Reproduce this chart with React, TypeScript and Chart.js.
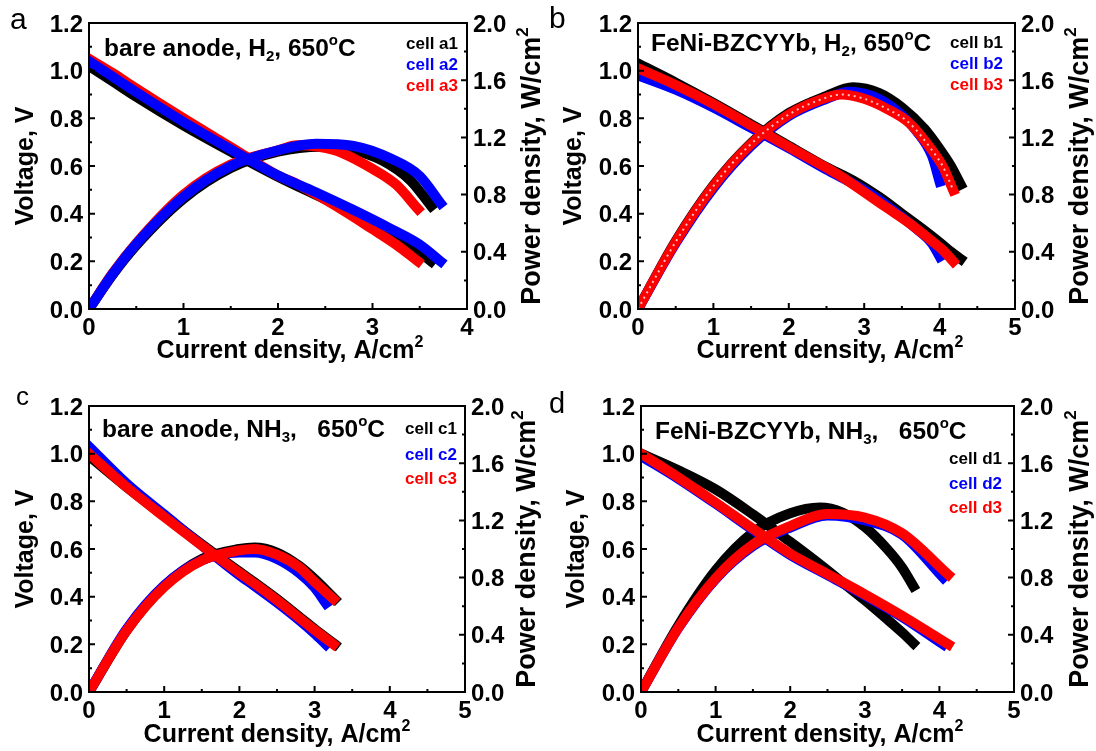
import React, { useEffect, useRef } from 'react';
import { Chart, registerables } from 'chart.js';
Chart.register(...registerables);

const FONT = '"Liberation Sans", Arial, Helvetica, sans-serif';
const BLACK = '#000000';
const BLUE = '#0000ff';
const RED = '#ff0000';

// ---------- tick values / labels ----------
const voltTicks = [0, 0.2, 0.4, 0.6, 0.8, 1.0, 1.2];
const voltLabels = ['0.0', '0.2', '0.4', '0.6', '0.8', '1.0', '1.2'];
const powerTicks = [0, 0.4, 0.8, 1.2, 1.6, 2.0];
const powerLabels = ['0.0', '0.4', '0.8', '1.2', '1.6', '2.0'];
const xTicks4 = [0, 1, 2, 3, 4];
const xLabels4 = ['0', '1', '2', '3', '4'];
const xTicks5 = [0, 1, 2, 3, 4, 5];
const xLabels5 = ['0', '1', '2', '3', '4', '5'];

// ---------- panel a : bare anode, H2 ----------
const a1Current = [0, 0.25, 0.5, 1, 1.5, 2, 2.45, 2.8, 3.1, 3.4, 3.62];
const a1Voltage = [1.02, 0.955, 0.89, 0.77, 0.66, 0.555, 0.47, 0.405, 0.345, 0.27, 0.2];
const a1Power = [0, 0.24, 0.445, 0.77, 0.985, 1.1, 1.135, 1.11, 1.04, 0.9, 0.72];
const a2Current = [0, 0.25, 0.5, 1, 1.5, 2, 2.4, 2.8, 3.2, 3.5, 3.72];
const a2Voltage = [1.04, 0.975, 0.91, 0.785, 0.67, 0.56, 0.49, 0.415, 0.335, 0.27, 0.2];
const a2Power = [0, 0.245, 0.455, 0.785, 1.0, 1.11, 1.155, 1.14, 1.05, 0.93, 0.74];
const a3Current = [0, 0.25, 0.5, 1, 1.5, 2, 2.2, 2.6, 3.0, 3.25, 3.48];
const a3Voltage = [1.05, 0.99, 0.925, 0.8, 0.68, 0.56, 0.525, 0.435, 0.335, 0.27, 0.2];
const a3Power = [0, 0.25, 0.46, 0.8, 1.01, 1.11, 1.145, 1.11, 0.98, 0.87, 0.7];

// ---------- panel b : FeNi-BZCYYb, H2 ----------
const b1Current = [0, 0.5, 1, 1.5, 2, 2.5, 2.85, 3.2, 3.5, 3.8, 4.0, 4.15, 4.28];
const b1Voltage = [1.03, 0.95, 0.865, 0.775, 0.685, 0.595, 0.54, 0.47, 0.4, 0.33, 0.28, 0.24, 0.21];
const b1Power = [0, 0.475, 0.865, 1.16, 1.37, 1.49, 1.55, 1.51, 1.41, 1.26, 1.12, 1.0, 0.87];
const b2Current = [0, 0.5, 1, 1.5, 2, 2.5, 2.8, 3.1, 3.4, 3.7, 3.9, 4.0];
const b2Voltage = [0.98, 0.92, 0.845, 0.76, 0.675, 0.585, 0.535, 0.48, 0.41, 0.335, 0.275, 0.22];
const b2Power = [0, 0.46, 0.845, 1.14, 1.35, 1.47, 1.52, 1.49, 1.4, 1.24, 1.07, 0.89];
const b3Current = [0, 0.5, 1, 1.5, 2, 2.4, 2.7, 3.0, 3.3, 3.6, 3.9, 4.05, 4.18];
const b3Voltage = [1.01, 0.94, 0.86, 0.77, 0.68, 0.61, 0.555, 0.49, 0.425, 0.36, 0.285, 0.245, 0.2];
const b3Power = [0, 0.47, 0.86, 1.155, 1.36, 1.46, 1.5, 1.47, 1.4, 1.3, 1.11, 0.99, 0.83];

// ---------- panel c : bare anode, NH3 ----------
const c1Current = [0, 0.5, 1, 1.5, 2, 2.2, 2.5, 2.8, 3.0, 3.27];
const c1Voltage = [0.99, 0.86, 0.74, 0.62, 0.505, 0.46, 0.39, 0.315, 0.265, 0.2];
const c1Power = [0, 0.43, 0.74, 0.93, 1.0, 1.01, 0.975, 0.88, 0.79, 0.65];
const c2Current = [0, 0.5, 1, 1.5, 2, 2.2, 2.5, 2.8, 3.0, 3.15];
const c2Voltage = [1.03, 0.875, 0.745, 0.615, 0.49, 0.445, 0.375, 0.3, 0.245, 0.2];
const c2Power = [0, 0.44, 0.745, 0.92, 0.975, 0.975, 0.93, 0.83, 0.73, 0.62];
const c3Current = [0, 0.5, 1, 1.5, 2, 2.2, 2.5, 2.8, 3.0, 3.25];
const c3Voltage = [1.0, 0.86, 0.735, 0.615, 0.5, 0.455, 0.385, 0.31, 0.26, 0.2];
const c3Power = [0, 0.43, 0.735, 0.92, 0.99, 1.0, 0.96, 0.87, 0.77, 0.65];

// ---------- panel d : FeNi-BZCYYb, NH3 ----------
const d1Current = [0, 0.5, 1, 1.5, 2, 2.4, 2.7, 3.0, 3.3, 3.5, 3.65];
const d1Voltage = [1.0, 0.93, 0.85, 0.745, 0.63, 0.535, 0.46, 0.385, 0.305, 0.25, 0.205];
const d1Power = [0, 0.465, 0.85, 1.115, 1.25, 1.29, 1.255, 1.155, 1.0, 0.87, 0.74];
const d2Current = [0, 0.5, 1, 1.5, 2, 2.5, 3.0, 3.5, 4.05];
const d2Voltage = [0.99, 0.895, 0.79, 0.68, 0.575, 0.49, 0.405, 0.315, 0.2];
const d2Power = [0, 0.447, 0.79, 1.02, 1.15, 1.235, 1.2, 1.1, 0.8];
const d3Current = [0, 0.5, 1, 1.5, 2, 2.5, 3.0, 3.5, 4.12];
const d3Voltage = [1.0, 0.9, 0.795, 0.685, 0.58, 0.495, 0.41, 0.32, 0.2];
const d3Power = [0, 0.45, 0.795, 1.03, 1.16, 1.245, 1.22, 1.11, 0.82];

type Part = { t: string; s?: 'sub' | 'sup' };
type Cell = { name: string; color: string; current: number[]; voltage: number[]; power: number[]; order: number; hollow?: boolean };
type PanelCfg = {
  letter: string;
  letterSize: number;
  letterPos: [number, number];
  box: { x: number; y: number; w: number; h: number };
  plot: { l: number; r: number; t: number; b: number };
  xMax: number;
  xTicks: number[];
  xLabels: string[];
  cells: Cell[];
  note: Part[];
  notePos: [number, number];
  legendX: number;
  legendY: number[];
  yTitleX: number;
  y1TitleX: number;
  xTitleX: number;
  xTitleY: number;
};

function drawRich(ctx: CanvasRenderingContext2D, parts: Part[], x: number, y: number, size: number, weight: string, align: string, color: string) {
  const big = `${weight} ${size}px ${FONT}`;
  const small = `${weight} ${Math.round(size * 0.62)}px ${FONT}`;
  let w = 0;
  for (const p of parts) {
    ctx.font = p.s ? small : big;
    w += ctx.measureText(p.t).width;
  }
  let cx = align === 'left' ? x : align === 'center' ? x - w / 2 : x - w;
  ctx.textAlign = 'left';
  ctx.textBaseline = 'alphabetic';
  ctx.fillStyle = color;
  const base = y + size * 0.358;
  for (const p of parts) {
    ctx.font = p.s ? small : big;
    const dy = p.s === 'sup' ? -size * 0.42 : p.s === 'sub' ? size * 0.2 : 0;
    ctx.fillText(p.t, cx, base + dy);
    cx += ctx.measureText(p.t).width;
  }
}

const TICK_SIZE = 24;

function makeDecor(cfg: PanelCfg) {
  return {
    id: 'decor' + cfg.letter,
    afterDraw(chart: any) {
      const ctx: CanvasRenderingContext2D = chart.ctx;
      const { left, right, top, bottom } = chart.chartArea;
      const xs = chart.scales.x;
      const ys = chart.scales.y;
      const y1 = chart.scales.y1;
      const ox = cfg.box.x;
      const oy = cfg.box.y;
      ctx.save();
      ctx.strokeStyle = BLACK;
      ctx.lineWidth = 2;
      ctx.strokeRect(left, top, right - left, bottom - top);
      const major = 6;
      const minor = 3;
      ctx.beginPath();
      for (let i = 0; i < cfg.xTicks.length; i++) {
        const v = cfg.xTicks[i];
        const px = xs.getPixelForValue(v);
        ctx.moveTo(px, bottom);
        ctx.lineTo(px, bottom - major);
        if (i < cfg.xTicks.length - 1) {
          const pm = xs.getPixelForValue((v + cfg.xTicks[i + 1]) / 2);
          ctx.moveTo(pm, bottom);
          ctx.lineTo(pm, bottom - minor);
        }
      }
      for (let i = 0; i < voltTicks.length; i++) {
        const v = voltTicks[i];
        const py = ys.getPixelForValue(v);
        ctx.moveTo(left, py);
        ctx.lineTo(left + major, py);
        if (i < voltTicks.length - 1) {
          const pm = ys.getPixelForValue((v + voltTicks[i + 1]) / 2);
          ctx.moveTo(left, pm);
          ctx.lineTo(left + minor, pm);
        }
      }
      for (let i = 0; i < powerTicks.length; i++) {
        const v = powerTicks[i];
        const py = y1.getPixelForValue(v);
        ctx.moveTo(right, py);
        ctx.lineTo(right - major, py);
        if (i < powerTicks.length - 1) {
          const pm = y1.getPixelForValue((v + powerTicks[i + 1]) / 2);
          ctx.moveTo(right, pm);
          ctx.lineTo(right - minor, pm);
        }
      }
      ctx.stroke();

      cfg.xTicks.forEach((v, i) => {
        drawRich(ctx, [{ t: cfg.xLabels[i] }], xs.getPixelForValue(v), bottom + 17, TICK_SIZE, 'bold', 'center', BLACK);
      });
      voltTicks.forEach((v, i) => {
        drawRich(ctx, [{ t: voltLabels[i] }], left - 6, ys.getPixelForValue(v), TICK_SIZE, 'bold', 'right', BLACK);
      });
      powerTicks.forEach((v, i) => {
        drawRich(ctx, [{ t: powerLabels[i] }], right + 6, y1.getPixelForValue(v), TICK_SIZE, 'bold', 'left', BLACK);
      });

      const cy = (top + bottom) / 2;
      drawRich(ctx, [{ t: 'Current density, A/cm' }, { t: '2', s: 'sup' }], cfg.xTitleX - ox, cfg.xTitleY - oy, 25, 'bold', 'center', BLACK);
      ctx.save();
      ctx.translate(cfg.yTitleX - ox, cy);
      ctx.rotate(-Math.PI / 2);
      drawRich(ctx, [{ t: 'Voltage, V' }], 0, 0, 25, 'bold', 'center', BLACK);
      ctx.restore();
      ctx.save();
      ctx.translate(cfg.y1TitleX - ox, cy);
      ctx.rotate(-Math.PI / 2);
      drawRich(ctx, [{ t: 'Power density, W/cm' }, { t: '2', s: 'sup' }], 0, 0, 27, 'bold', 'center', BLACK);
      ctx.restore();

      drawRich(ctx, cfg.note, cfg.notePos[0] - ox, cfg.notePos[1] - oy, 24.5, 'bold', 'left', BLACK);
      cfg.cells.forEach((c, i) => {
        drawRich(ctx, [{ t: c.name }], cfg.legendX - ox, cfg.legendY[i] - oy, 17, 'bold', 'right', c.color);
      });
      ctx.font = `normal ${cfg.letterSize}px ${FONT}`;
      ctx.fillStyle = BLACK;
      ctx.textAlign = 'left';
      ctx.textBaseline = 'alphabetic';
      ctx.fillText(cfg.letter, cfg.letterPos[0] - ox, cfg.letterPos[1] - oy);
      ctx.restore();
    },
  };
}

function Panel({ cfg }: { cfg: PanelCfg }) {
  const ref = useRef<HTMLCanvasElement>(null);
  useEffect(() => {
    const canvas = ref.current;
    if (!canvas) return;
    const { box, plot } = cfg;
    const datasets: any[] = [];
    cfg.cells.forEach((c) => {
      const common = {
        borderColor: c.color,
        backgroundColor: c.color,
        borderWidth: 10,
        pointRadius: 0,
        pointHoverRadius: 0,
        cubicInterpolationMode: 'monotone',
        borderCapStyle: 'square',
        borderJoinStyle: 'round',
        fill: false,
        order: c.order,
      };
      const vData = c.current.map((x, k) => ({ x, y: c.voltage[k] }));
      const pData = c.current.map((x, k) => ({ x, y: c.power[k] }));
      datasets.push({ ...common, label: c.name + ' voltage', yAxisID: 'y', data: vData });
      datasets.push({ ...common, label: c.name + ' power', yAxisID: 'y1', data: pData });
      if (c.hollow) {
        datasets.push({
          ...common,
          label: c.name + ' power (open marks)',
          yAxisID: 'y1',
          data: pData,
          borderColor: 'rgba(255,255,255,0.75)',
          borderWidth: 2,
          borderDash: [2, 4],
          borderCapStyle: 'butt',
          order: 0,
        });
      }
    });
    const hidden = { display: false };
    const chart = new Chart(canvas, {
      type: 'line',
      data: { datasets },
      options: {
        animation: false,
        responsive: false,
        devicePixelRatio: 1,
        events: [],
        layout: { padding: { top: plot.t - box.y, left: 0, right: 0, bottom: 0 } },
        plugins: { legend: { display: false }, tooltip: { enabled: false } },
        scales: {
          x: {
            type: 'linear', position: 'bottom', min: 0, max: cfg.xMax,
            grid: hidden, border: hidden, ticks: { display: false },
            afterFit: (s: any) => { s.height = box.y + box.h - plot.b; },
          },
          y: {
            type: 'linear', position: 'left', min: 0, max: 1.2,
            grid: hidden, border: hidden, ticks: { display: false },
            afterFit: (s: any) => { s.width = plot.l - box.x; },
          },
          y1: {
            type: 'linear', position: 'right', min: 0, max: 2.0,
            grid: hidden, border: hidden, ticks: { display: false },
            afterFit: (s: any) => { s.width = box.x + box.w - plot.r; },
          },
        },
      } as any,
      plugins: [makeDecor(cfg)],
    });
    return () => chart.destroy();
  }, [cfg]);
  const { box } = cfg;
  return (
    <canvas
      ref={ref}
      width={box.w}
      height={box.h}
      style={{ position: 'absolute', left: box.x, top: box.y, width: box.w, height: box.h }}
    />
  );
}

const panels: PanelCfg[] = [
  {
    letter: 'a', letterSize: 30, letterPos: [10, 29],
    box: { x: 0, y: 0, w: 548, h: 375 },
    plot: { l: 89, r: 467, t: 23, b: 309 },
    xMax: 4, xTicks: xTicks4, xLabels: xLabels4,
    cells: [
      { name: 'cell a1', color: BLACK, current: a1Current, voltage: a1Voltage, power: a1Power, order: 3 },
      { name: 'cell a2', color: BLUE, current: a2Current, voltage: a2Voltage, power: a2Power, order: 1 },
      { name: 'cell a3', color: RED, current: a3Current, voltage: a3Voltage, power: a3Power, order: 2 },
    ],
    note: [{ t: 'bare anode, H' }, { t: '2', s: 'sub' }, { t: ', 650' }, { t: 'o', s: 'sup' }, { t: 'C' }],
    notePos: [104, 47], legendX: 458, legendY: [43, 64, 85],
    yTitleX: 24, y1TitleX: 530, xTitleX: 290, xTitleY: 349,
  },
  {
    letter: 'b', letterSize: 30, letterPos: [549, 28],
    box: { x: 548, y: 0, w: 548, h: 375 },
    plot: { l: 638, r: 1015, t: 23, b: 309 },
    xMax: 5, xTicks: xTicks5, xLabels: xLabels5,
    cells: [
      { name: 'cell b1', color: BLACK, current: b1Current, voltage: b1Voltage, power: b1Power, order: 3 },
      { name: 'cell b2', color: BLUE, current: b2Current, voltage: b2Voltage, power: b2Power, order: 2 },
      { name: 'cell b3', color: RED, current: b3Current, voltage: b3Voltage, power: b3Power, order: 1, hollow: true },
    ],
    note: [{ t: 'FeNi-BZCYYb, H' }, { t: '2', s: 'sub' }, { t: ', 650' }, { t: 'o', s: 'sup' }, { t: 'C' }],
    notePos: [651, 42], legendX: 1003, legendY: [42, 63, 84],
    yTitleX: 572, y1TitleX: 1078, xTitleX: 830, xTitleY: 349,
  },
  {
    letter: 'c', letterSize: 26, letterPos: [16, 405],
    box: { x: 0, y: 375, w: 548, h: 376 },
    plot: { l: 89, r: 465, t: 406, b: 692 },
    xMax: 5, xTicks: xTicks5, xLabels: xLabels5,
    cells: [
      { name: 'cell c1', color: BLACK, current: c1Current, voltage: c1Voltage, power: c1Power, order: 3 },
      { name: 'cell c2', color: BLUE, current: c2Current, voltage: c2Voltage, power: c2Power, order: 2 },
      { name: 'cell c3', color: RED, current: c3Current, voltage: c3Voltage, power: c3Power, order: 1 },
    ],
    note: [{ t: 'bare anode, NH' }, { t: '3', s: 'sub' }, { t: ',   650' }, { t: 'o', s: 'sup' }, { t: 'C' }],
    notePos: [102, 428], legendX: 457, legendY: [428, 454, 478],
    yTitleX: 24, y1TitleX: 525, xTitleX: 277, xTitleY: 733,
  },
  {
    letter: 'd', letterSize: 29, letterPos: [549, 413],
    box: { x: 548, y: 375, w: 548, h: 376 },
    plot: { l: 641, r: 1014, t: 406, b: 692 },
    xMax: 5, xTicks: xTicks5, xLabels: xLabels5,
    cells: [
      { name: 'cell d1', color: BLACK, current: d1Current, voltage: d1Voltage, power: d1Power, order: 3 },
      { name: 'cell d2', color: BLUE, current: d2Current, voltage: d2Voltage, power: d2Power, order: 2 },
      { name: 'cell d3', color: RED, current: d3Current, voltage: d3Voltage, power: d3Power, order: 1 },
    ],
    note: [{ t: 'FeNi-BZCYYb, NH' }, { t: '3', s: 'sub' }, { t: ',   650' }, { t: 'o', s: 'sup' }, { t: 'C' }],
    notePos: [655, 430], legendX: 1002, legendY: [458, 483, 507],
    yTitleX: 575, y1TitleX: 1078, xTitleX: 830, xTitleY: 733,
  },
];

export default function App() {
  return (
    <div style={{ position: 'absolute', left: 0, top: 0, width: 1096, height: 751, background: '#ffffff', overflow: 'hidden' }}>
      {panels.map((p) => (
        <Panel key={p.letter} cfg={p} />
      ))}
    </div>
  );
}
